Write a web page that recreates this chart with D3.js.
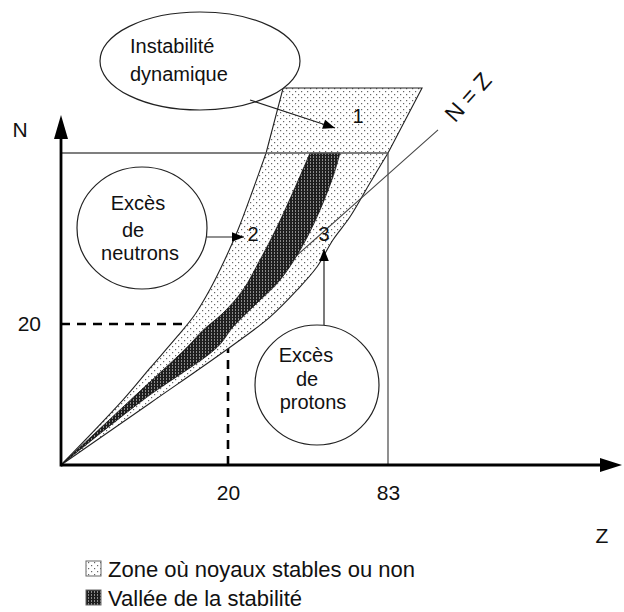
<!DOCTYPE html>
<html><head><meta charset="utf-8">
<script src="https://cdn.jsdelivr.net/npm/d3@7"></script>
<style>body{margin:0;background:#fff}svg{display:block}text{font-family:"Liberation Sans",Arial,sans-serif;fill:#111}</style>
</head><body><div id="chart"></div>
<script>
// ---- data (Z, N) in schematic units ----
const tickZ = [20, 83];
const tickN = [20];
const zoneLeft = [[0,0],[7.4,9.2],[10.7,13.8],[13.9,18.2],[16.0,25.6],[17.8,41.1],[19.6,59.7],[23.9,78.3],[29.8,103.1],[35.0,126]];
const zoneTop = [[41.7,166.3],[96.4,166.3],[83,126]];
const zoneRight = [[83,126],[75.9,107.4],[68.0,86.3],[61.3,72.1],[55.0,55.3],[47.2,41.1],[36.5,24.3],[20.8,16.7],[10.7,8.8],[0,0]];
const valleyLeft = [[0,0],[8.3,9.2],[15.1,16.7],[17.0,19.1],[19.4,26.8],[25.9,41.1],[32.6,59.7],[39.3,80.1],[47.2,107.4],[52.3,126]];
const valleyRight = [[64.1,126],[61.3,111.1],[55.0,86.3],[48.4,65.9],[40.5,47.3],[31.4,33.0],[22.0,19.6],[18.7,16.7],[9.8,9.2],[0,0]];
const nzLine = [[0,0],[102.7,140.3]];
const boxLine = [[0,126],[83,126],[83,0]];
const guideH = [[0,20],[20,20]];
const guideV = [[20,0],[20,20]];
const legendItems = ["Zone où noyaux stables ou non", "Vallée de la stabilité"];

const W = 624, H = 612;
const x = d3.scaleLinear().domain([0, 20, 83]).range([61, 228, 388]);
const y = d3.scaleLinear().domain([0, 20, 126]).range([465, 324, 153]);

const svg = d3.select("#chart").append("svg").attr("width", W).attr("height", H);
const defs = svg.append("defs");
const dots = defs.append("pattern").attr("id","dots").attr("patternUnits","userSpaceOnUse").attr("width",6).attr("height",6);
dots.append("rect").attr("width",6).attr("height",6).attr("fill","#fff");
dots.append("rect").attr("x",1).attr("y",1).attr("width",1.2).attr("height",1.2).attr("fill","#666");
dots.append("rect").attr("x",4).attr("y",4).attr("width",1.2).attr("height",1.2).attr("fill","#666");
const hatch = defs.append("pattern").attr("id","hatch").attr("patternUnits","userSpaceOnUse").attr("width",3).attr("height",3);
hatch.append("rect").attr("width",3).attr("height",3).attr("fill","#1e1e1e");
hatch.append("rect").attr("x",1).attr("y",0).attr("width",1).attr("height",2).attr("fill","#8a8a8a");
const mk = defs.append("marker").attr("id","arr").attr("viewBox","0 0 10 10").attr("refX",10).attr("refY",5)
  .attr("markerWidth",16).attr("markerHeight",12).attr("orient","auto").attr("markerUnits","userSpaceOnUse");
mk.append("path").attr("d","M0,1 L10,5 L0,9 Z").attr("fill","#000");

const line = d3.line().x(d => x(d[0])).y(d => y(d[1]));
const smooth = d3.line().x(d => x(d[0])).y(d => y(d[1])).curve(d3.curveCatmullRom.alpha(0.5));

// guides (dashed)
[guideH, guideV].forEach(g => svg.append("path").attr("d", line(g)).attr("fill","none")
  .attr("stroke","#000").attr("stroke-width",2.6).attr("stroke-dasharray","9 7"));

// zone (stable or not)
const zoneD = smooth(zoneLeft) + "L" + zoneTop.map(d => x(d[0])+","+y(d[1])).join("L") + smooth(zoneRight).replace(/^M/,"L") + "Z";
svg.append("path").attr("d", zoneD).attr("fill","url(#dots)").attr("stroke","#222").attr("stroke-width",1.1);

// N = Z line
svg.append("path").attr("d", line(nzLine)).attr("stroke","#444").attr("stroke-width",1.1).attr("fill","none");

// valley of stability
const vpath = smooth(valleyLeft) + smooth(valleyRight).replace(/^M/,"L") + "Z";
svg.append("path").attr("d", vpath).attr("fill","url(#hatch)").attr("stroke","#111").attr("stroke-width",0.8);

// box
svg.append("path").attr("d", line(boxLine)).attr("fill","none").attr("stroke","#555").attr("stroke-width",1.3);

// axes lines with arrows
const xMaxPx = 622, yTopPx = 115;
svg.append("line").attr("x1",x(0)).attr("y1",y(0)).attr("x2",xMaxPx-14).attr("y2",y(0)).attr("stroke","#000").attr("stroke-width",2.8);
svg.append("line").attr("x1",x(0)).attr("y1",y(0)+1.4).attr("x2",x(0)).attr("y2",yTopPx+20).attr("stroke","#000").attr("stroke-width",2.8);
svg.append("path").attr("d",`M${xMaxPx},${y(0)} L${xMaxPx-22},${y(0)-7} L${xMaxPx-22},${y(0)+7} Z`).attr("fill","#000");
svg.append("path").attr("d",`M${x(0)},${yTopPx} L${x(0)-7},${yTopPx+24} L${x(0)+7},${yTopPx+24} Z`).attr("fill","#000");

// tick labels via d3 axes
const ax = svg.append("g").attr("transform",`translate(0,${y(0)})`).call(d3.axisBottom(x).tickValues(tickZ).tickSize(0).tickPadding(20).tickFormat(d3.format("d")));
ax.select(".domain").remove();
ax.selectAll("text").attr("font-size",21).attr("fill","#111").attr("font-family","Liberation Sans, Arial");
const ay = svg.append("g").attr("transform",`translate(${x(0)},0)`).call(d3.axisLeft(y).tickValues(tickN).tickSize(0).tickPadding(20).tickFormat(d3.format("d")));
ay.select(".domain").remove();
ay.selectAll("text").attr("font-size",21).attr("fill","#111").attr("font-family","Liberation Sans, Arial");

svg.append("text").attr("x",20).attr("y",137).attr("text-anchor","middle").attr("font-size",21).text("N");
svg.append("text").attr("x",602).attr("y",543).attr("text-anchor","middle").attr("font-size",21).text("Z");

// N = Z label
svg.append("text").attr("transform","translate(468,97) rotate(-48)").attr("text-anchor","middle").attr("dominant-baseline","central")
  .attr("font-size",23).text("N = Z");

// callouts
function txt(t, cx, by, anchor="middle", fs=20){ svg.append("text").attr("x",cx).attr("y",by).attr("text-anchor",anchor).attr("font-size",fs).text(t); }
svg.append("ellipse").attr("cx",200).attr("cy",61).attr("rx",100).attr("ry",49).attr("fill","#fff").attr("stroke","#222").attr("stroke-width",1.2);
txt("Instabilité",130,53,"start"); txt("dynamique",130,81,"start");
svg.append("line").attr("x1",250).attr("y1",100).attr("x2",335).attr("y2",128).attr("stroke","#222").attr("stroke-width",1.2).attr("marker-end","url(#arr)");
txt("1",358,123);

svg.append("ellipse").attr("cx",142).attr("cy",228).attr("rx",65).attr("ry",61).attr("fill","#fff").attr("stroke","#222").attr("stroke-width",1.2);
txt("Excès",138,210); txt("de",133,237); txt("neutrons",140,260);
svg.append("line").attr("x1",207).attr("y1",237).attr("x2",244).attr("y2",237).attr("stroke","#222").attr("stroke-width",1.2).attr("marker-end","url(#arr)");
txt("2",253,241);

svg.append("ellipse").attr("cx",317).attr("cy",385).attr("rx",62).attr("ry",60).attr("fill","#fff").attr("stroke","#222").attr("stroke-width",1.2);
txt("Excès",306,362); txt("de",307,386); txt("protons",313,409);
svg.append("line").attr("x1",324).attr("y1",325).attr("x2",324).attr("y2",249).attr("stroke","#222").attr("stroke-width",1.2).attr("marker-end","url(#arr)");
txt("3",324,241);

// legend
const lg = svg.append("g");
legendItems.forEach((t,i) => {
  const yy = 569 + i*29;
  lg.append("rect").attr("x",86).attr("y",yy-8).attr("width",15).attr("height",15).attr("fill", i===0 ? "url(#dots)" : "url(#hatch)").attr("stroke","#666").attr("stroke-width",1);
  lg.append("text").attr("x",108).attr("y",yy+8).attr("font-size",22).text(t);
});
</script></body></html>
